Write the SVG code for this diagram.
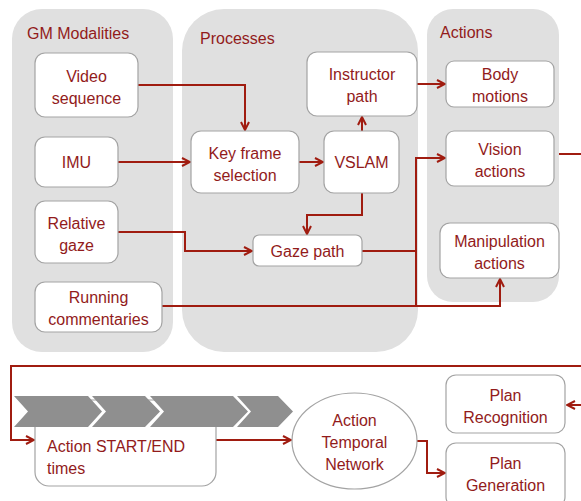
<svg xmlns="http://www.w3.org/2000/svg" width="581" height="501" viewBox="0 0 581 501">
<defs>
<style>
.panel{fill:#e0e0e0}
.box{fill:#fff;stroke:#a3a3a3;stroke-width:1.2}
.t{font-family:"Liberation Sans",Arial,sans-serif;font-size:16px;fill:#921b1b;text-anchor:middle}
.h{font-family:"Liberation Sans",Arial,sans-serif;font-size:16px;fill:#921b1b}
.c{fill:none;stroke:#a01c10;stroke-width:2}
.chev{fill:#8f8f8f}
</style>
<marker id="ah" viewBox="0 0 10 10" refX="9" refY="5" markerWidth="10" markerHeight="10" markerUnits="userSpaceOnUse" orient="auto">
<path d="M1,1 L9,5 L1,9" fill="none" stroke="#a01c10" stroke-width="2"/>
</marker>
</defs>
<rect width="581" height="501" fill="#fff"/>

<g id="panel-gm"><rect class="panel" x="12" y="9" width="161" height="343" rx="30"/><text class="h" x="27" y="39">GM Modalities</text></g>
<g id="panel-processes"><rect class="panel" x="182" y="9" width="236" height="343" rx="42"/><text class="h" x="200" y="44">Processes</text></g>
<g id="panel-actions"><rect class="panel" x="427" y="9" width="132" height="293" rx="26"/><text class="h" x="440" y="38">Actions</text></g>

<g id="connectors">
<polyline class="c" points="138,85 245,85 245,130" marker-end="url(#ah)"/>
<polyline class="c" points="118,162 190,162" marker-end="url(#ah)"/>
<polyline class="c" points="299,162 323,162" marker-end="url(#ah)"/>
<polyline class="c" points="362,131 362,117" marker-end="url(#ah)"/>
<polyline class="c" points="417,84 445,84" marker-end="url(#ah)"/>
<polyline class="c" points="362,193 362,215 307,215 307,234" marker-end="url(#ah)"/>
<polyline class="c" points="118,232 185,232 185,251 252,251" marker-end="url(#ah)"/>
<polyline class="c" points="362,251 416,251"/>
<polyline class="c" points="416,307 416,158 445,158" marker-end="url(#ah)"/>
<polyline class="c" points="162,306 500,306 500,279" marker-end="url(#ah)"/>
<polyline class="c" points="559,154 581,154"/>
<polyline class="c" points="581,366 11,366 11,440 34,440" marker-end="url(#ah)"/>
<polyline class="c" points="216,440 291,440" marker-end="url(#ah)"/>
<polyline class="c" points="417,441 427,441 427,473 445,473" marker-end="url(#ah)"/>
<polyline class="c" points="581,405 567,405" marker-end="url(#ah)"/>
</g>

<g id="video"><rect class="box" x="35" y="53" width="103" height="64" rx="10"/><text class="t" x="86.5" y="82">Video</text><text class="t" x="86.5" y="104">sequence</text></g>
<g id="imu"><rect class="box" x="35" y="137" width="83" height="50" rx="10"/><text class="t" x="76.5" y="168">IMU</text></g>
<g id="relgaze"><rect class="box" x="35" y="201" width="83" height="62" rx="10"/><text class="t" x="76.5" y="229">Relative</text><text class="t" x="76.5" y="251">gaze</text></g>
<g id="running"><rect class="box" x="35" y="282" width="127" height="50" rx="10"/><text class="t" x="98.5" y="303">Running</text><text class="t" x="98.5" y="325">commentaries</text></g>

<g id="keyframe"><rect class="box" x="191" y="131" width="108" height="62" rx="10"/><text class="t" x="245" y="159">Key frame</text><text class="t" x="245" y="181">selection</text></g>
<g id="vslam"><rect class="box" x="324" y="131" width="75" height="62" rx="10"/><text class="t" x="361.5" y="168">VSLAM</text></g>
<g id="instructor"><rect class="box" x="307" y="52" width="110" height="64" rx="10"/><text class="t" x="362" y="80">Instructor</text><text class="t" x="362" y="102">path</text></g>
<g id="gazepath"><rect class="box" x="253" y="235" width="109" height="31" rx="6"/><text class="t" x="307.5" y="257">Gaze path</text></g>

<g id="body"><rect class="box" x="446" y="61" width="108" height="46" rx="8"/><text class="t" x="500" y="80">Body</text><text class="t" x="500" y="102">motions</text></g>
<g id="vision"><rect class="box" x="446" y="131" width="108" height="55" rx="8"/><text class="t" x="500" y="155">Vision</text><text class="t" x="500" y="177">actions</text></g>
<g id="manip"><rect class="box" x="440" y="223" width="119" height="55" rx="10"/><text class="t" x="499.5" y="247">Manipulation</text><text class="t" x="499.5" y="269">actions</text></g>

<g id="startend"><rect class="box" x="35" y="400" width="181" height="86" rx="14"/><text class="h" x="47" y="452">Action START/END</text><text class="h" x="47" y="474">times</text></g>
<g id="timeline">
<polygon class="chev" points="14,396 88,396 102,411.5 88,427 14,427 28,411.5"/>
<polygon class="chev" points="92,396 145,396 160,411.5 145,427 92,427 106,411.5"/>
<polygon class="chev" points="150,396 233,396 248,411.5 233,427 150,427 164,411.5"/>
<polygon class="chev" points="237,396 278,396 293,411.5 278,427 237,427 251,411.5"/>
</g>
<g id="atn"><ellipse cx="354.5" cy="441" rx="62.5" ry="48" fill="#fff" stroke="#a3a3a3" stroke-width="1.2"/><text class="t" x="354.5" y="426">Action</text><text class="t" x="354.5" y="448">Temporal</text><text class="t" x="354.5" y="470">Network</text></g>
<g id="planrec"><rect class="box" x="446" y="375" width="119" height="58" rx="10"/><text class="t" x="505.5" y="401">Plan</text><text class="t" x="505.5" y="423">Recognition</text></g>
<g id="plangen"><rect class="box" x="446" y="443" width="119" height="64" rx="10"/><text class="t" x="505.5" y="469">Plan</text><text class="t" x="505.5" y="491">Generation</text></g>
</svg>
